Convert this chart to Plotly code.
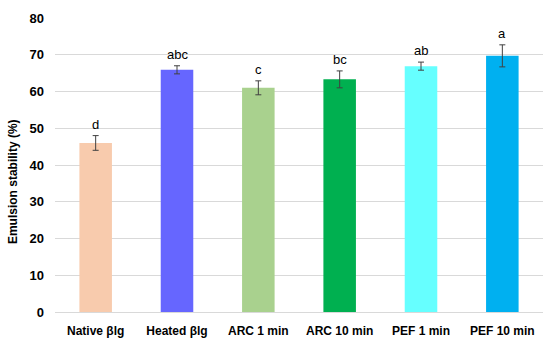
import plotly.graph_objects as go

categories = ["Native βlg", "Heated βlg", "ARC 1 min", "ARC 10 min", "PEF 1 min", "PEF 10 min"]
values = [46.0, 65.9, 61.0, 63.3, 66.9, 69.7]
errors = [2.0, 1.1, 1.9, 2.3, 1.1, 3.0]
letters = ["d", "abc", "c", "bc", "ab", "a"]
colors = ["#F8CBAD", "#6666FF", "#A9D18E", "#00B050", "#66FFFF", "#00B0F0"]
y_ticks = [0, 10, 20, 30, 40, 50, 60, 70, 80]

FONT = "Liberation Sans Narrow, Arial Narrow, Liberation Sans"

fig = go.Figure()
fig.add_trace(go.Bar(
    x=categories, y=values, width=0.4,
    marker=dict(color=colors, line=dict(width=0)),
    error_y=dict(type="data", array=errors, visible=True, color="#404040", thickness=1, width=3),
    showlegend=False,
))
for c, v, e, t in zip(categories, values, errors, letters):
    fig.add_annotation(x=c, y=v + e, text=t, showarrow=False, yanchor="bottom", yshift=2,
                       font=dict(family="Liberation Sans, Arial", size=13, color="#000000"))

fig.add_annotation(xref="paper", yref="paper", x=-0.086, y=0.442, text="Emulsion stability (%)",
                   textangle=-90, showarrow=False, xanchor="center", yanchor="middle",
                   font=dict(family=FONT, size=12, color="#000000", weight="bold"))

fig.update_layout(
    width=550, height=342,
    margin=dict(l=55, r=7, t=18, b=30, autoexpand=False),
    plot_bgcolor="white", paper_bgcolor="white",
    xaxis=dict(showgrid=False, showline=True, linecolor="#D9D9D9", linewidth=1, ticks="",
               automargin=False, ticklabelstandoff=8,
               tickfont=dict(family=FONT, size=12, color="#000000", weight="bold")),
    yaxis=dict(range=[0, 80], tickvals=y_ticks, showgrid=True, gridcolor="#D9D9D9", gridwidth=1,
               zeroline=False, showline=False, ticks="", ticklabelstandoff=10, automargin=False,
               tickfont=dict(family=FONT, size=13, color="#000000", weight="bold")),
)
fig.write_html("out.html", config={"displayModeBar": False},
               post_script="document.body.style.margin='0';document.body.style.padding='0';")
